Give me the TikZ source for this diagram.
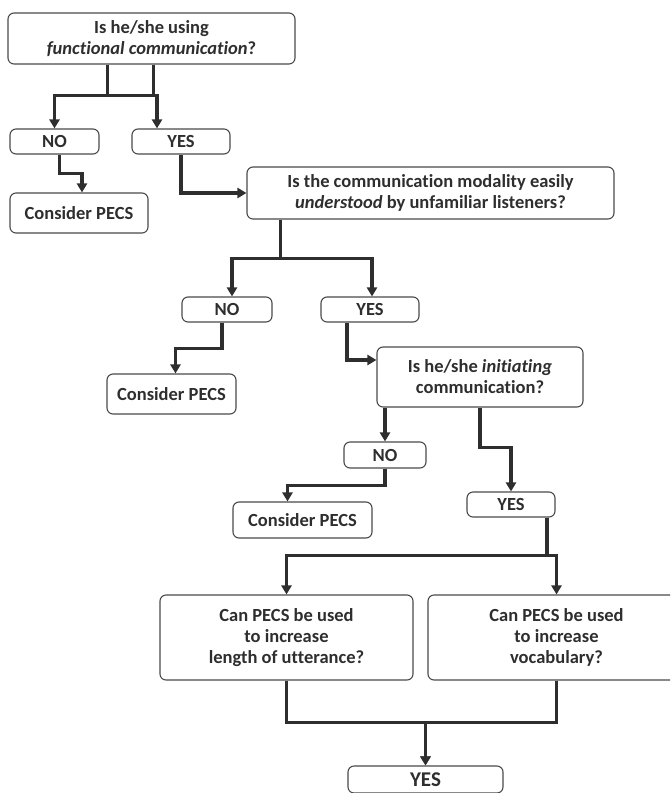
\documentclass[tikz,border=0pt]{standalone}
\usepackage{fontspec}
\setmainfont[Ligatures=NoCommon]{Carlito}
\usetikzlibrary{arrows.meta, positioning}
\definecolor{cline}{HTML}{2E2E2E}
\definecolor{cedge}{HTML}{4A4A4A}
\tikzset{
  every picture/.style={font=\bfseries\fontsize{18.5}{21}\selectfont, x=1pt, y=-1pt},
  box/.style={draw=cedge, line width=1.1pt, rounded corners=6pt, align=center, inner sep=0pt,
    minimum width=#1, text=cline},
  arrow/.style={-{Triangle[length=9pt, width=10pt]}, draw=cline, line width=3.6pt},
  bar/.style={draw=cline, line width=3.6pt},
}

\begin{document}
\begin{tikzpicture}
  \useasboundingbox (0,0) rectangle (670,793);
  \clip (0,0) rectangle (670,793);
  \node[box=287pt, minimum height=51pt] (q1) at (151.5,38.5) {Is he/she using\\\textit{functional communication}?};
  \node[box=89pt, minimum height=25pt] (no1) at (54.5,141.5) {NO};
  \node[box=98pt, minimum height=25pt] (yes1) at (181,141.5) {YES};
  \node[box=138pt, minimum height=40pt] (pecs1) at (79,213) {Consider PECS};
  \node[box=367pt, minimum height=52pt] (q2) at (430.5,193) {Is the communication modality easily\\\textit{understood} by unfamiliar listeners?};
  \node[box=90pt, minimum height=25pt] (no2) at (227,309.5) {NO};
  \node[box=98pt, minimum height=25pt] (yes2) at (370,309.5) {YES};
  \node[box=129pt, minimum height=40pt] (pecs2) at (171.5,394) {Consider PECS};
  \node[box=206pt, minimum height=60pt] (q3) at (480,377) {Is he/she \textit{initiating}\\communication?};
  \node[box=82pt, minimum height=26pt] (no3) at (385,455) {NO};
  \node[box=139pt, minimum height=36pt] (pecs3) at (302.5,520) {Consider PECS};
  \node[box=88pt, minimum height=25pt] (yes3) at (511,504.5) {YES};
  \node[box=253pt, minimum height=85pt] (c1) at (286.5,637.5) {Can PECS be used\\to increase\\length of utterance?};
  \node[box=257pt, minimum height=85pt] (c2) at (556.5,637.5) {Can PECS be used\\to increase\\vocabulary?};
  \node[box=155pt, minimum height=27pt, font=\bfseries\fontsize{21}{24}\selectfont] (fin) at (425.5,779.5) {YES};

  \draw[bar] ([xshift=-44]q1.south) -- ++(0,31);
  \draw[arrow] ([xshift=2]q1.south) -- ++(0,31) -| (no1.north);
  \draw[arrow] ([xshift=2]q1.south) -- ++(0,31) -| ([xshift=-24]yes1.north);
  \draw[arrow] ([xshift=5]no1.south) -- ++(0,19) -| ([xshift=3]pecs1.north);
  \draw[arrow] (yes1.south) |- (q2.west);
  \draw[arrow] ([xshift=-150]q2.south) -- ++(0,39) -| ([xshift=5]no2.north);
  \draw[arrow] ([xshift=-150]q2.south) -- ++(0,39) -| ([xshift=2]yes2.north);
  \draw[arrow] ([xshift=-5]no2.south) -- ++(0,26) -| ([xshift=4]pecs2.north);
  \draw[arrow] ([xshift=-23]yes2.south) |- ([yshift=17]q3.west);
  \draw[arrow] (no3.north |- q3.south) -- (no3.north);
  \draw[arrow] (no3.south) -- ++(0,17) -| ([xshift=-15]pecs3.north);
  \draw[arrow] (q3.south) -- ++(0,40) -| (yes3.north);
  \draw[arrow] ([xshift=36]yes3.south) -- ++(0,38) -| (c1.north);
  \draw[arrow] ([xshift=36]yes3.south) -- ++(0,38) -| (c2.north);
  \draw[arrow] (c1.south) -- ++(0,42) -| (fin.north);
  \draw[arrow] (c2.south) -- ++(0,42) -| (fin.north);
\end{tikzpicture}
\end{document}
